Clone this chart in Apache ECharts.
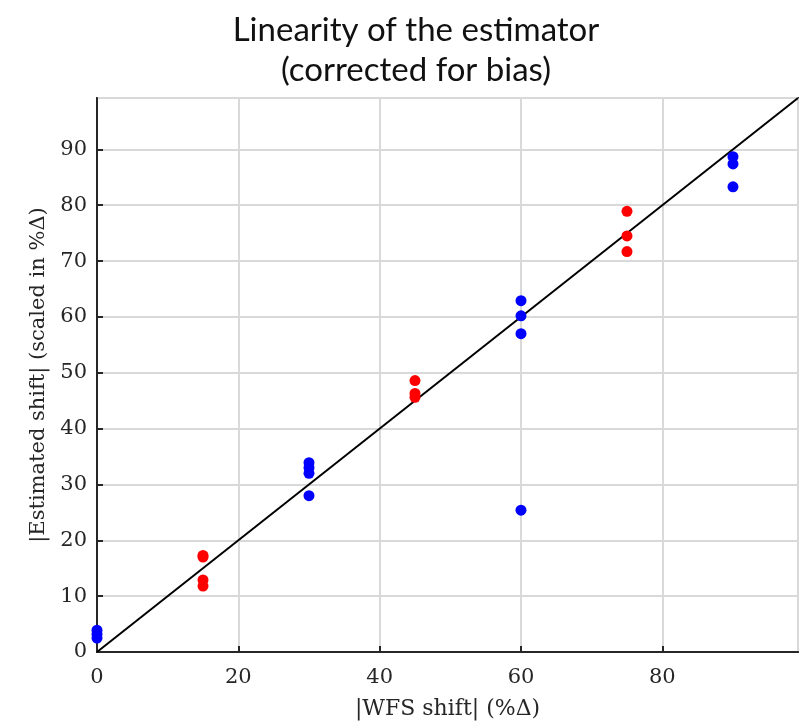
<!DOCTYPE html>
<html>
<head>
<meta charset="utf-8">
<script src="https://cdn.jsdelivr.net/npm/echarts@6/dist/echarts.min.js"></script>
<style>html,body{margin:0;padding:0;background:#fff}#c{width:804px;height:725px}</style>
</head>
<body>
<div id="c"></div>
<script>
const axisMax = 99.2;
const xTicks = [0, 20, 40, 60, 80];
const yTicks = [0, 10, 20, 30, 40, 50, 60, 70, 80, 90];
// blue group (true shift, estimated)
const blueX = [0, 0, 0, 30, 30, 30, 30, 60, 60, 60, 60, 90, 90, 90];
const blueY = [2.5, 3.2, 3.9, 33.9, 33.0, 32.0, 28.0, 62.9, 60.2, 57.0, 25.4, 88.7, 87.4, 83.3];
// red group
const redX = [15, 15, 15, 15, 45, 45, 45, 75, 75, 75];
const redY = [17.3, 17.0, 12.9, 11.8, 48.6, 46.3, 45.6, 78.9, 74.5, 71.7];
// identity reference line
const refLine = [0, axisMax];

const serif = 'DejaVu Serif';
const chart = echarts.init(document.getElementById('c'));
chart.setOption({
  animation: false,
  title: {
    text: 'Linearity of the estimator\n(corrected for bias)',
    left: 411, top: 5, textAlign: 'center',
    textStyle: { fontFamily: 'Lato', fontWeight: 'normal', fontSize: 33, lineHeight: 40, color: '#111' }
  },
  grid: { left: 97, right: 6, top: 98, bottom: 73, show: true, borderColor: '#262626', borderWidth: 2, backgroundColor: 'transparent' },
  xAxis: {
    type: 'value', min: 0, max: axisMax, interval: 20,
    name: '|WFS shift| (%Δ)', nameLocation: 'middle', nameGap: 46,
    nameTextStyle: { fontFamily: serif, fontSize: 22, color: '#262626' },
    axisLine: { show: true, onZero: false, lineStyle: { color: '#262626', width: 2 } },
    axisTick: { show: true, inside: true, length: 6, lineStyle: { color: '#262626', width: 2 } },
    axisLabel: { showMaxLabel: false, fontFamily: serif, fontSize: 21, color: '#262626', margin: 15,
      formatter: v => xTicks.includes(v) ? String(v) : '' },
    splitLine: { show: true, lineStyle: { color: '#d9d9d9', width: 2 } }
  },
  yAxis: {
    type: 'value', min: 0, max: axisMax, interval: 10,
    name: '|Estimated shift| (scaled in %Δ)', nameLocation: 'middle', nameGap: 48,
    nameTextStyle: { fontFamily: serif, fontSize: 21, color: '#262626' },
    axisLine: { show: true, onZero: false, lineStyle: { color: '#262626', width: 2 } },
    axisTick: { show: true, inside: true, length: 6, lineStyle: { color: '#262626', width: 2 } },
    axisLabel: { showMaxLabel: false, fontFamily: serif, fontSize: 21, color: '#262626', margin: 10,
      formatter: v => yTicks.includes(v) ? String(v) : '' },
    splitLine: { show: true, lineStyle: { color: '#d9d9d9', width: 2 } }
  },
  series: [
    { type: 'line', data: refLine.map(v => [v, v]), symbol: 'none', lineStyle: { color: '#000', width: 2 }, z: 3 },
    { type: 'scatter', data: blueX.map((x, i) => [x, blueY[i]]), symbolSize: 11, itemStyle: { color: '#0000ff', opacity: 1 }, z: 4 },
    { type: 'scatter', data: redX.map((x, i) => [x, redY[i]]), symbolSize: 11, itemStyle: { color: '#ff0000', opacity: 1 }, z: 4 }
  ]
});
</script>
</body>
</html>
